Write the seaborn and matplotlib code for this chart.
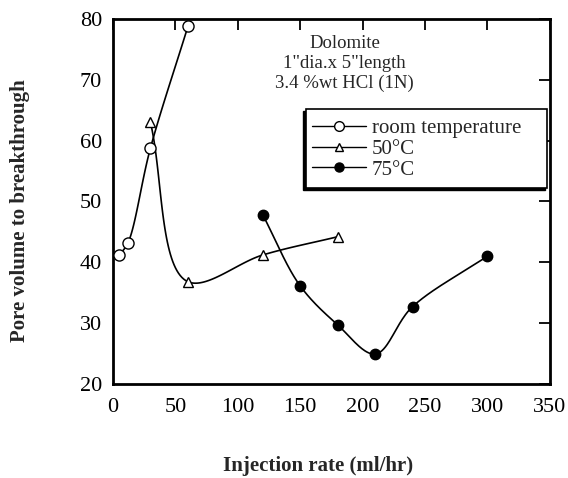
import numpy as np
import pandas as pd
import matplotlib
matplotlib.use("Agg")
import matplotlib.pyplot as plt
import seaborn as sns
from matplotlib.lines import Line2D
from matplotlib.patches import Rectangle

# Data
room_x = [5, 12, 30, 60]
room_y = [41.2, 43.2, 58.8, 78.8]
c50_x = [30, 60, 120, 180]
c50_y = [63.0, 36.8, 41.2, 44.2]
c75_x = [120, 150, 180, 210, 240, 300]
c75_y = [47.8, 36.1, 29.7, 24.9, 32.7, 41.0]
series_names = ["room temperature", "50\u00b0C", "75\u00b0C"]
x_ticks = [0, 50, 100, 150, 200, 250, 300, 350]
y_ticks = [20, 30, 40, 50, 60, 70, 80]

sns.set_theme(style="white")
plt.rcParams['font.family'] = ['Liberation Serif', 'DejaVu Serif']


def smooth(xs, ys, n=40):
    """Centripetal Catmull-Rom curve through the data points (drawing only)."""
    p = np.column_stack([xs, ys]).astype(float)
    sc = np.array([1.0 / 350, 1.0 / 60])
    pts = np.vstack([2 * p[0] - p[1], p, 2 * p[-1] - p[-2]])
    out = []
    for i in range(1, len(pts) - 2):
        P0, P1, P2, P3 = pts[i - 1], pts[i], pts[i + 1], pts[i + 2]

        def tj(ti, a, b):
            return ti + np.linalg.norm((b - a) * sc) ** 0.5 + 1e-9
        t0 = 0.0
        t1 = tj(t0, P0, P1)
        t2 = tj(t1, P1, P2)
        t3 = tj(t2, P2, P3)
        t = np.linspace(t1, t2, n)[:, None]
        A1 = (t1 - t) / (t1 - t0) * P0 + (t - t0) / (t1 - t0) * P1
        A2 = (t2 - t) / (t2 - t1) * P1 + (t - t1) / (t2 - t1) * P2
        A3 = (t3 - t) / (t3 - t2) * P2 + (t - t2) / (t3 - t2) * P3
        B1 = (t2 - t) / (t2 - t0) * A1 + (t - t0) / (t2 - t0) * A2
        B2 = (t3 - t) / (t3 - t1) * A2 + (t - t1) / (t3 - t1) * A3
        C = (t2 - t) / (t2 - t1) * B1 + (t - t1) / (t2 - t1) * B2
        out.append(C)
    c = np.vstack(out)
    return c[:, 0], c[:, 1]


fig = plt.figure(figsize=(5.68, 4.78), dpi=100)
ax = fig.add_axes([0.199, 0.197, 0.769, 0.763])

styles = [
    (room_x, room_y, "o", "white", 8),
    (c50_x, c50_y, "^", "white", 7),
    (c75_x, c75_y, "o", "black", 7.5),
]
handles = []
for (xs, ys, mk, fc, ms), name in zip(styles, series_names):
    sx, sy = smooth(xs, ys)
    sns.lineplot(x=sx, y=sy, ax=ax, color="black", lw=1.2, sort=False,
                 estimator=None, zorder=2)
    df = pd.DataFrame({"x": xs, "y": ys})
    ax.plot(df["x"], df["y"], linestyle="none", marker=mk, markersize=ms,
            markerfacecolor=fc, markeredgecolor="black", markeredgewidth=1.0,
            zorder=3)
    handles.append(Line2D([0], [0], color="black", lw=1.0, marker=mk,
                          markersize=ms - 1, markerfacecolor=fc,
                          markeredgecolor="black", label=name))

ax.set_xlim(0, 350)
ax.set_ylim(20, 80)
ax.set_xticks(x_ticks)
ax.set_yticks(y_ticks)
ax.tick_params(direction="in", length=8, width=1.3, top=True, right=True,
               labelsize=16, colors="black")
ax.tick_params(axis="x", pad=10)
ax.tick_params(axis="y", pad=8)
for sp in ax.spines.values():
    sp.set_linewidth(2)
    sp.set_color("black")

ax.set_xlabel("Injection rate (ml/hr)", fontsize=15, fontweight="bold")
ax.xaxis.set_label_coords(0.47, -0.197)
ax.set_ylabel("Pore volume to breakthrough", fontsize=15, fontweight="bold")
ax.yaxis.set_label_coords(-0.19, 0.474)

for yy, txt in [(0.933, "Dolomite"), (0.878, "1\"dia.x 5\"length"),
                (0.823, "3.4 %wt HCl (1N)")]:
    ax.text(0.53, yy, txt, transform=ax.transAxes, ha="center",
            va="center", fontsize=13.5)

# legend box with lower-left shadow
bx0, by0, bx1, by1 = 0.441, 0.537, 0.993, 0.753
ax.add_patch(Rectangle((bx0 - 0.005, by0 - 0.006), bx1 - bx0, by1 - by0,
                       transform=ax.transAxes, facecolor="black",
                       edgecolor="black", zorder=4))
ax.add_patch(Rectangle((bx0, by0), bx1 - bx0, by1 - by0,
                       transform=ax.transAxes, facecolor="white",
                       edgecolor="black", lw=1.2, zorder=5))
leg = ax.legend(handles=handles, loc="upper left",
                bbox_to_anchor=(0.445, 0.738), frameon=False,
                fontsize=15, handlelength=2.6, handletextpad=0.3,
                labelspacing=0.05, borderpad=0.2, borderaxespad=0)
leg.set_zorder(6)

fig.savefig("out.png", dpi=100)
